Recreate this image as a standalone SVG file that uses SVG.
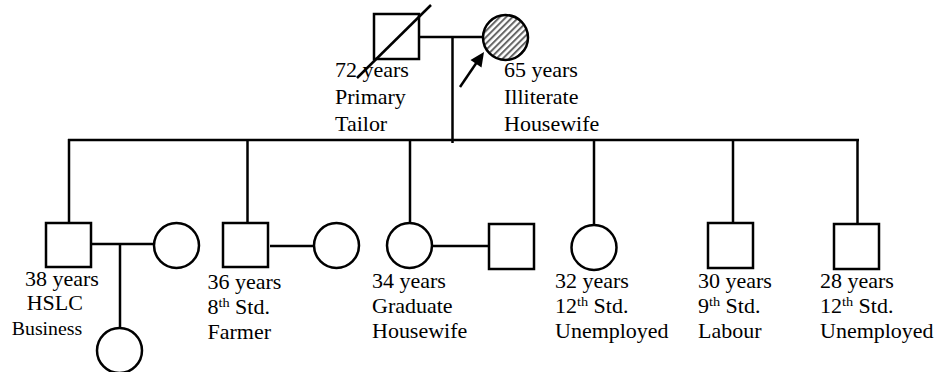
<svg xmlns="http://www.w3.org/2000/svg" width="938" height="372" viewBox="0 0 938 372">
<style>
.s{fill:#fff;stroke:#000;stroke-width:2.5}
.l{stroke:#000;stroke-width:2.5;fill:none}
.t{font-family:"Liberation Serif","Times New Roman",serif;font-size:20px;fill:#000}
.b{font-size:18px}
.sup{font-size:13px}
</style>
<defs>
<pattern id="hatch" patternUnits="userSpaceOnUse" width="4.5" height="4.5" patternTransform="rotate(45)">
<rect width="4.5" height="4.5" fill="#fff"/>
<line x1="1" y1="0" x2="1" y2="4.5" stroke="#666" stroke-width="2"/>
</pattern>
</defs>
<g id="connectors">
<line class="l" x1="419" y1="37" x2="483" y2="37"/>
<line class="l" x1="452.5" y1="37" x2="452.5" y2="143"/>
<line class="l" x1="68" y1="140" x2="859" y2="140"/>
<line class="l" x1="69" y1="139" x2="69" y2="223"/>
<line class="l" x1="247.5" y1="139" x2="247.5" y2="223"/>
<line class="l" x1="410" y1="139" x2="410" y2="223"/>
<line class="l" x1="594" y1="139" x2="594" y2="225"/>
<line class="l" x1="733" y1="139" x2="733" y2="223"/>
<line class="l" x1="857.5" y1="139" x2="857.5" y2="224"/>
<line class="l" x1="91" y1="244" x2="154" y2="244"/>
<line class="l" x1="120" y1="244" x2="120" y2="328"/>
<line class="l" x1="270" y1="246" x2="314" y2="246"/>
<line class="l" x1="432" y1="246" x2="489" y2="246"/>
<line class="l" x1="460" y1="87" x2="477" y2="62"/>
<polygon points="484,52 481.5,67.5 470.5,60" fill="#000"/>
</g>
<g id="father">
<rect class="s" x="374" y="14" width="45" height="45"/>
<line class="l" x1="357" y1="78" x2="431" y2="5"/>
<g transform="translate(335,77) scale(1.1,1)"><text class="t" x="0" y="0">72 years</text><text class="t" x="0" y="27">Primary</text><text class="t" x="0" y="54">Tailor</text></g>
</g>
<g id="mother">
<circle cx="505.5" cy="37.5" r="22.5" fill="url(#hatch)" stroke="#000" stroke-width="2.5"/>
<g transform="translate(504,77) scale(1.1,1)"><text class="t" x="0" y="0">65 years</text><text class="t" x="0" y="27">Illiterate</text><text class="t" x="0" y="54">Housewife</text></g>
</g>
<g id="child1">
<rect class="s" x="46" y="223" width="45" height="44"/>
<g transform="translate(25,286) scale(1.1,1)"><text class="t" x="0" y="0">38 years</text><text class="t" x="1.5" y="24">HSLC</text><text class="t b" x="-12" y="49">Business</text></g>
</g>
<g id="child1-spouse"><circle class="s" cx="176.5" cy="245.5" r="22.5"/></g>
<g id="grandchild"><circle class="s" cx="119.5" cy="350.5" r="22.5"/></g>
<g id="child2">
<rect class="s" x="223" y="223" width="45" height="44"/>
<g transform="translate(207.5,289) scale(1.1,1)"><text class="t" x="0" y="0">36 years</text><text class="t" x="0" y="25">8<tspan class="sup" dy="-7">th</tspan><tspan dy="7"> Std.</tspan></text><text class="t" x="0" y="50">Farmer</text></g>
</g>
<g id="child2-spouse"><circle class="s" cx="336.5" cy="245.5" r="22.5"/></g>
<g id="child3">
<circle class="s" cx="409.5" cy="245.5" r="22.5"/>
<g transform="translate(372,288) scale(1.1,1)"><text class="t" x="0" y="0">34 years</text><text class="t" x="0" y="25">Graduate</text><text class="t" x="0" y="50">Housewife</text></g>
</g>
<g id="child3-spouse"><rect class="s" x="489" y="224" width="45" height="45"/></g>
<g id="child4">
<circle class="s" cx="594" cy="247.5" r="22.5"/>
<g transform="translate(555,288) scale(1.1,1)"><text class="t" x="0" y="0">32 years</text><text class="t" x="0" y="25">12<tspan class="sup" dy="-7">th</tspan><tspan dy="7"> Std.</tspan></text><text class="t" x="0" y="50">Unemployed</text></g>
</g>
<g id="child5">
<rect class="s" x="708" y="223" width="45" height="45"/>
<g transform="translate(698,288) scale(1.1,1)"><text class="t" x="0" y="0">30 years</text><text class="t" x="0" y="25">9<tspan class="sup" dy="-7">th</tspan><tspan dy="7"> Std.</tspan></text><text class="t" x="0" y="50">Labour</text></g>
</g>
<g id="child6">
<rect class="s" x="834" y="224" width="45" height="45"/>
<g transform="translate(820,288) scale(1.1,1)"><text class="t" x="0" y="0">28 years</text><text class="t" x="0" y="25">12<tspan class="sup" dy="-7">th</tspan><tspan dy="7"> Std.</tspan></text><text class="t" x="0" y="50">Unemployed</text></g>
</g>
</svg>
